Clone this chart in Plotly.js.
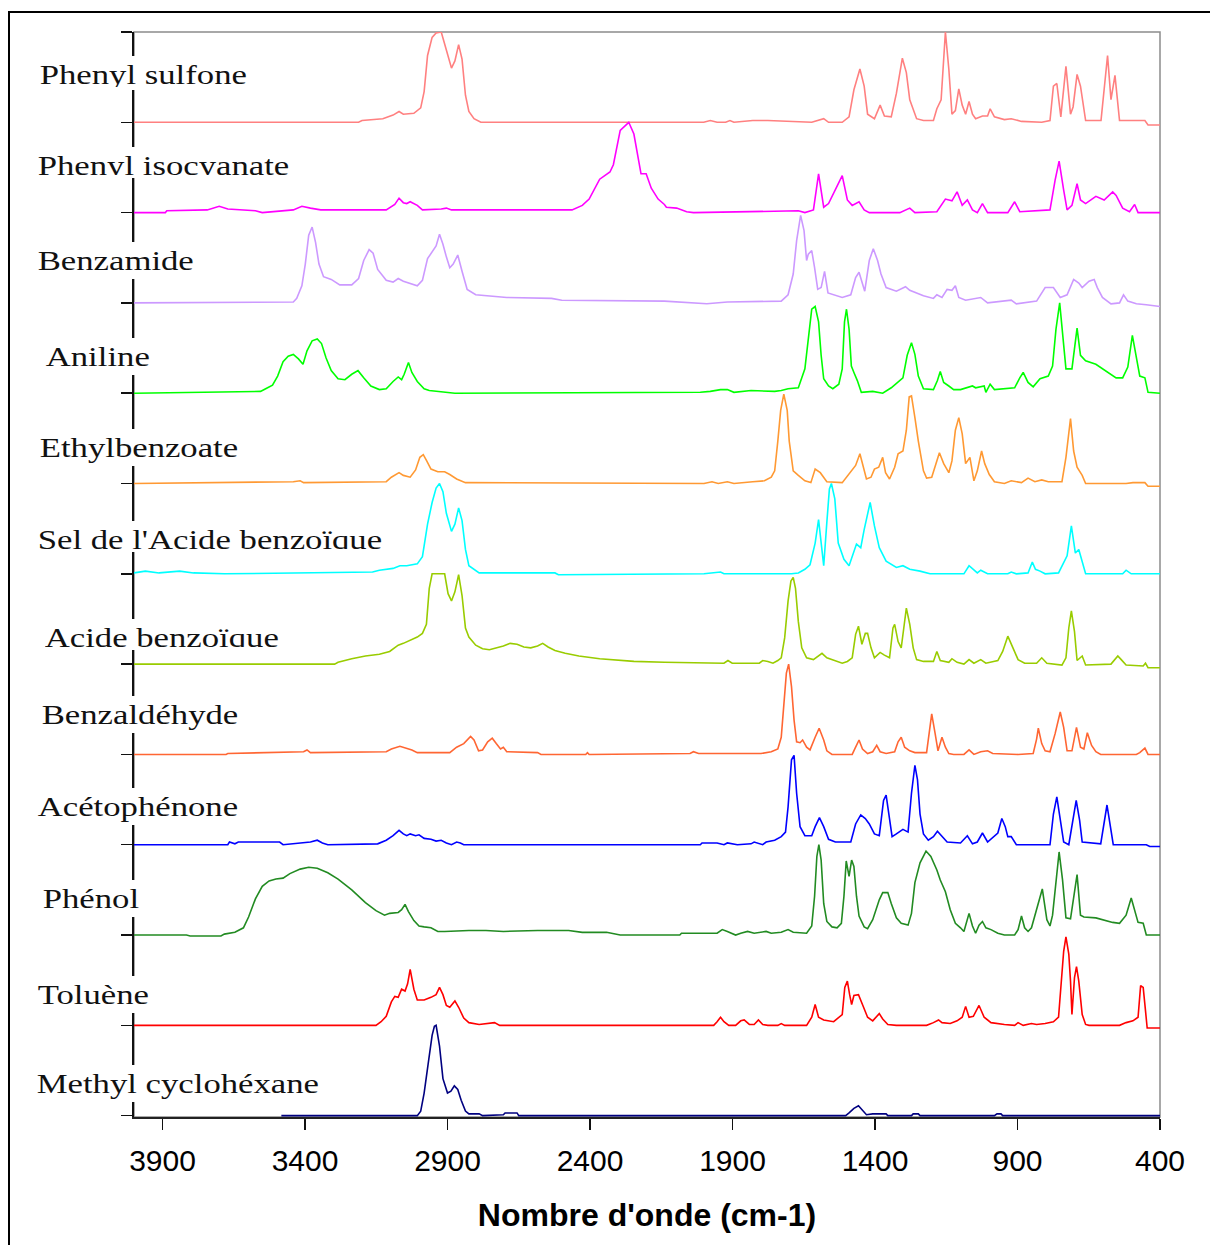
<!DOCTYPE html>
<html>
<head>
<meta charset="utf-8">
<script src="https://cdn.plot.ly/plotly-3.0.1.min.js"></script>
<style>
html,body{margin:0;padding:0;background:#fff;}
#chart{width:1210px;height:1245px;}
</style>
</head>
<body>
<div id="chart"></div>
<script>
// ---------- DATA (wavenumber cm-1, normalised absorbance) ----------
const labelNames = ['Phenyl sulfone','Phenyl isocyanate','Benzamide','Aniline','Ethylbenzoate',
  "Sel de l'Acide benzoïque",'Acide benzoïque','Benzaldéhyde','Acétophénone','Phénol','Toluène','Methyl cyclohéxane'];

const xTickVals = [3900,3400,2900,2400,1900,1400,900,400];
const xTitle = "Nombre d'onde (cm-1)";

const wnPS = [4000,3212,3200,3127,3091,3070,3055,3018,2994,2982,2970,2954,2940,2922,2904,2886,2874,2861,2849,2837,2825,2807,2783,2001,1978,1954,1924,1909,1895,1829,1776,1622,1580,1563,1515,1491,1474,1453,1438,1426,1402,1382,1367,1343,1325,1304,1290,1278,1254,1230,1195,1183,1168,1153,1141,1130,1118,1106,1094,1082,1070,1058,1047,1023,1005,996,981,946,922,886,815,786,774,762,748,730,714,705,691,679,661,607,584,572,558,542,453,442,400];
const absPS = [0,0,0.02,0.04,0.08,0.12,0.09,0.10,0.16,0.34,0.74,0.94,0.99,1.00,0.80,0.60,0.68,0.86,0.70,0.30,0.12,0.04,0,0,0.02,0,0,0.02,0,0.02,0.02,0,0.04,0,0,0.06,0.36,0.59,0.40,0.09,0.04,0.19,0.07,0.06,0.32,0.71,0.55,0.25,0.04,0.02,0.02,0.15,0.25,1.00,0.59,0.09,0.13,0.37,0.19,0.09,0.23,0.09,0.04,0.07,0.07,0.15,0.06,0.03,0.04,0.01,0,0.02,0.40,0.43,0.06,0.62,0.09,0.17,0.53,0.40,0.02,0.02,0.74,0.25,0.52,0.02,0.02,-0.03,-0.03];

const wnPI = [4000,3890,3885,3743,3701,3671,3574,3550,3441,3411,3381,3345,3115,3085,3070,3055,3043,3031,3006,2988,2922,2904,2886,2463,2427,2403,2366,2330,2318,2294,2264,2246,2221,2203,2185,2161,2139,2132,2096,2061,2037,1669,1646,1616,1598,1580,1563,1515,1497,1480,1456,1438,1420,1313,1278,1260,1183,1153,1130,1112,1094,1076,1058,1041,1023,1005,934,910,892,827,786,768,754,738,726,709,691,679,661,625,596,566,554,531,507,489,477,400];
const absPI = [0,0,0.02,0.03,0.07,0.04,0.02,0,0.03,0.07,0.05,0.03,0.03,0.09,0.16,0.11,0.10,0.12,0.08,0.03,0.04,0.05,0.03,0.03,0.08,0.15,0.37,0.45,0.53,0.91,1.00,0.87,0.43,0.43,0.27,0.15,0.09,0.06,0.05,0.01,0,0.02,0,0.03,0.43,0.06,0.10,0.41,0.14,0.08,0.12,0.03,0,0,0.05,0,0.01,0.15,0.13,0.23,0.08,0.14,0.03,0,0.10,0,0,0.12,0.01,0.02,0.03,0.36,0.57,0.25,0.03,0.08,0.32,0.14,0.10,0.18,0.14,0.23,0.19,0.05,0.01,0.09,0,0];

const wnBZ = [4000,3441,3429,3411,3399,3387,3375,3363,3351,3335,3308,3278,3236,3212,3194,3175,3161,3145,3115,3091,3073,3055,3006,2988,2970,2952,2940,2928,2916,2904,2892,2880,2864,2849,2831,2801,2765,2692,2535,2499,2139,2049,1990,1918,1729,1705,1687,1675,1661,1649,1640,1634,1622,1612,1601,1589,1577,1565,1539,1515,1485,1468,1456,1444,1436,1420,1406,1391,1379,1361,1325,1293,1278,1230,1195,1183,1165,1147,1130,1118,1106,1082,1029,1005,922,904,833,803,774,750,726,703,685,673,649,631,620,602,572,542,528,513,483,448,400];
const absBZ = [0,0.01,0.05,0.19,0.43,0.75,0.84,0.67,0.43,0.29,0.26,0.20,0.20,0.27,0.47,0.59,0.55,0.37,0.25,0.23,0.27,0.24,0.19,0.25,0.49,0.57,0.63,0.76,0.65,0.51,0.39,0.43,0.53,0.35,0.15,0.09,0.08,0.06,0.05,0.03,0.02,0,-0.01,0.01,0.02,0.09,0.32,0.69,0.97,0.80,0.47,0.54,0.58,0.39,0.15,0.17,0.35,0.11,0.08,0.06,0.09,0.28,0.34,0.21,0.13,0.47,0.60,0.47,0.32,0.17,0.13,0.18,0.14,0.08,0.05,0.09,0.06,0.15,0.14,0.19,0.06,0.03,0.06,0,0.03,-0.01,0.02,0.17,0.17,0.06,0.09,0.26,0.22,0.17,0.24,0.26,0.17,0.06,-0.01,0,0.09,0.02,-0.01,-0.02,-0.04];

const wnAN = [4000,3556,3538,3514,3496,3477,3459,3441,3423,3407,3393,3375,3357,3342,3326,3308,3284,3260,3236,3214,3194,3169,3139,3115,3091,3073,3061,3052,3037,3025,3006,2982,2964,2874,2013,1978,1942,1918,1895,1835,1752,1729,1705,1669,1646,1634,1622,1610,1598,1589,1580,1563,1548,1527,1515,1507,1500,1491,1483,1474,1462,1448,1408,1373,1343,1302,1287,1272,1260,1248,1230,1195,1181,1171,1159,1141,1124,1100,1058,1047,1017,1011,996,981,910,892,880,863,845,821,792,777,765,752,742,730,709,691,679,661,625,590,554,531,513,497,483,471,453,442,400];
const absAN = [0,0.02,0.05,0.09,0.19,0.35,0.41,0.43,0.38,0.32,0.47,0.58,0.60,0.55,0.39,0.25,0.16,0.15,0.21,0.25,0.17,0.08,0.04,0.05,0.13,0.18,0.15,0.21,0.34,0.23,0.13,0.05,0.03,0,0.01,0.02,0.04,0.04,0.01,0.03,0.02,0.03,0.05,0.06,0.27,0.60,0.93,0.96,0.79,0.42,0.16,0.08,0.05,0.10,0.27,0.79,0.93,0.71,0.30,0.23,0.14,0.01,0.02,0,0.06,0.17,0.42,0.56,0.43,0.19,0.05,0.04,0.14,0.24,0.12,0.08,0.04,0.04,0.08,0.06,0.08,0.01,0.10,0.04,0.06,0.17,0.23,0.12,0.07,0.16,0.19,0.30,0.71,1.00,0.64,0.27,0.27,0.72,0.42,0.36,0.32,0.25,0.17,0.17,0.29,0.64,0.42,0.19,0.17,0.01,0];

const wnEB = [4000,3441,3417,3405,3115,3097,3070,3055,3031,3012,2997,2985,2973,2958,2934,2910,2892,2868,2837,2000,1972,1950,1918,1895,1829,1788,1764,1752,1741,1731,1720,1708,1701,1687,1669,1646,1625,1610,1592,1569,1515,1485,1468,1453,1444,1430,1414,1402,1387,1373,1363,1349,1331,1319,1302,1290,1280,1272,1260,1248,1230,1219,1201,1189,1174,1159,1141,1130,1118,1106,1094,1082,1067,1053,1041,1026,1015,999,981,946,922,886,863,839,815,792,744,730,714,703,691,673,661,519,495,453,442,400];
const absEB = [0,0.02,0.03,0.01,0.02,0.07,0.12,0.09,0.07,0.15,0.29,0.32,0.25,0.16,0.13,0.13,0.10,0.05,0.01,0,0.02,0,0.02,0,0.02,0.03,0.07,0.14,0.47,0.81,0.99,0.81,0.47,0.14,0.09,0.03,0.01,0.16,0.12,0.02,0.01,0.14,0.20,0.33,0.22,0.05,0.07,0.16,0.18,0.29,0.12,0.05,0.18,0.33,0.36,0.59,0.96,0.97,0.73,0.47,0.14,0.06,0.07,0.18,0.34,0.22,0.12,0.25,0.59,0.73,0.55,0.22,0.29,0.03,0.14,0.36,0.22,0.10,0.02,0,0.03,0.01,0.06,0.02,0.04,0.02,0.02,0.29,0.72,0.36,0.18,0.09,0,0,0.01,0.01,-0.03,-0.03];

const wnSEL = [4000,3960,3912,3840,3791,3683,3163,3139,3091,3067,3043,3006,2988,2970,2954,2940,2928,2916,2904,2886,2874,2861,2849,2837,2825,2807,2789,2523,2511,2000,1954,1942,1930,1693,1669,1646,1628,1610,1598,1589,1580,1569,1560,1553,1541,1529,1509,1491,1480,1465,1450,1438,1417,1402,1385,1361,1325,1302,1278,1242,1207,1088,1070,1058,1041,1029,1005,934,922,904,863,848,837,821,803,756,726,711,697,685,673,661,531,519,501,400];
const absSEL = [0.01,0.03,0.01,0.03,0.01,0,0.02,0.04,0.06,0.09,0.09,0.11,0.19,0.55,0.79,0.95,1.00,0.91,0.67,0.47,0.55,0.73,0.59,0.27,0.09,0.05,0.01,0.01,-0.01,0,0.01,0.02,0,0,0.01,0.05,0.10,0.34,0.60,0.34,0.09,0.57,0.94,1.00,0.83,0.34,0.16,0.09,0.20,0.33,0.29,0.49,0.79,0.53,0.29,0.14,0.07,0.09,0.05,0.03,0,0,0.09,0.06,0.01,0.04,0,0,0.02,0,0.01,0.13,0.05,0.03,0,0.01,0.20,0.53,0.23,0.27,0.12,0,0,0.04,0,0];

const wnAB = [4000,3489,3296,3284,3236,3188,3139,3103,3073,3055,3031,3006,2988,2974,2964,2954,2910,2898,2886,2874,2861,2849,2837,2825,2801,2777,2753,2729,2704,2680,2656,2632,2608,2584,2566,2547,2523,2487,2439,2366,2246,2139,2000,1930,1916,1901,1806,1794,1776,1758,1741,1729,1717,1705,1695,1687,1679,1669,1657,1640,1616,1586,1569,1539,1515,1497,1480,1468,1458,1446,1434,1426,1414,1402,1382,1367,1349,1337,1331,1319,1308,1299,1290,1278,1266,1254,1230,1195,1183,1171,1141,1130,1112,1088,1070,1053,1029,1011,969,952,934,916,898,875,833,815,797,744,730,720,711,700,691,673,661,572,548,536,519,459,451,442,400];
const absAB = [0,0,0,0.02,0.06,0.09,0.11,0.14,0.21,0.23,0.26,0.30,0.34,0.44,0.84,1.00,1.00,0.78,0.70,0.80,0.99,0.76,0.40,0.30,0.21,0.17,0.16,0.18,0.20,0.23,0.22,0.19,0.18,0.20,0.23,0.19,0.15,0.12,0.09,0.06,0.03,0.02,0.01,0.01,0.04,0.01,0.01,0.04,0.03,0.01,0.04,0.07,0.29,0.70,0.92,0.96,0.84,0.47,0.18,0.07,0.05,0.12,0.07,0.04,0.01,0.03,0.07,0.33,0.42,0.22,0.34,0.34,0.18,0.07,0.13,0.10,0.07,0.40,0.44,0.25,0.18,0.40,0.62,0.44,0.18,0.05,0.03,0.03,0.14,0.04,0.02,0.06,0.02,0,0.05,0.01,0.05,0.01,0.04,0.14,0.31,0.18,0.05,0.01,0.01,0.07,0.01,-0.01,0.07,0.40,0.59,0.36,0.04,0.09,-0.01,0,0.09,0.05,-0.01,-0.02,0.01,-0.04,-0.04];

const wnBA = [4000,3677,3671,3477,3405,3393,3381,3115,3097,3067,3043,3025,3006,2892,2868,2843,2819,2807,2791,2777,2759,2743,2729,2714,2704,2692,2584,2572,2415,2409,2403,2049,2037,2019,1942,1871,1800,1764,1741,1729,1719,1711,1703,1693,1684,1675,1663,1654,1640,1628,1610,1596,1580,1569,1551,1480,1468,1456,1444,1426,1408,1394,1382,1361,1331,1319,1308,1296,1278,1260,1219,1209,1201,1189,1179,1165,1153,1141,1124,1088,1070,1053,1029,1005,987,898,845,833,827,815,803,786,768,750,738,726,709,693,679,667,655,640,625,608,483,471,453,442,400];
const absBA = [0,0,0.01,0.02,0.03,0.05,0.02,0.03,0.06,0.09,0.07,0.05,0.02,0.02,0.08,0.12,0.20,0.16,0.04,0.05,0.14,0.18,0.12,0.06,0.08,0.03,0.02,0,0,0.02,0,0.01,0.03,0.01,0.01,0.01,0.01,0.03,0.06,0.19,0.56,0.90,1.00,0.75,0.38,0.14,0.13,0.16,0.08,0.05,0.19,0.29,0.16,0.04,0,0,0.08,0.16,0.06,0.01,0.03,0.10,0.03,0.01,0.03,0.14,0.19,0.08,0.04,0.02,0.02,0.30,0.45,0.23,0.04,0.19,0.08,0.01,0,0,0.05,0,0.03,0.04,0.01,0,0.01,0.17,0.29,0.12,0.04,0.03,0.23,0.47,0.30,0.04,0.04,0.30,0.08,0.06,0.24,0.10,0.03,0,0,0.02,0.07,0,0];

const wnAC = [4000,3671,3665,3646,3634,3489,3477,3381,3357,3339,3320,3145,3115,3091,3070,3055,3043,3031,3012,3000,2982,2958,2940,2922,2904,2886,2868,2855,2843,2013,2007,1954,1930,1918,1883,1835,1824,1794,1782,1752,1729,1714,1705,1693,1684,1675,1663,1646,1622,1610,1595,1580,1563,1539,1485,1468,1450,1434,1420,1402,1385,1370,1361,1351,1340,1325,1302,1284,1272,1260,1251,1242,1230,1213,1195,1181,1165,1147,1100,1076,1058,1041,1023,1005,969,955,943,934,922,904,786,774,762,750,738,720,709,694,682,673,608,596,586,574,564,448,436,400];
const absAC = [0,0,0.03,0.01,0.03,0.03,0,0.03,0.05,0.02,0,0.01,0.05,0.10,0.16,0.12,0.10,0.12,0.10,0.11,0.07,0.06,0.04,0.05,0.02,0,0.03,0.02,0,0,0.02,0.02,0,0.02,0,0.01,0.03,0,0.03,0.05,0.09,0.14,0.42,0.94,0.99,0.57,0.20,0.10,0.10,0.20,0.30,0.20,0.06,0.03,0.03,0.23,0.33,0.29,0.23,0.12,0.10,0.49,0.55,0.31,0.09,0.12,0.17,0.14,0.57,0.88,0.72,0.34,0.12,0.05,0.09,0.15,0.09,0.03,0.02,0.10,0.01,0.03,0.13,0.03,0.13,0.29,0.20,0.09,0.09,0,0,0.34,0.53,0.27,0.03,0,0.23,0.49,0.27,0.03,0.01,0.27,0.44,0.20,0,0,-0.02,-0.02];

const wnPH = [4000,3816,3803,3695,3683,3646,3616,3598,3574,3550,3526,3502,3477,3453,3417,3387,3357,3320,3284,3236,3188,3151,3121,3103,3073,3061,3049,3037,3018,3000,2982,2958,2934,2910,2825,2765,2704,2632,2584,2475,2427,2342,2294,2085,2079,1954,1936,1918,1889,1871,1847,1824,1782,1764,1729,1705,1687,1640,1622,1612,1604,1597,1589,1580,1569,1551,1533,1518,1509,1501,1491,1482,1474,1465,1456,1438,1426,1408,1385,1373,1355,1343,1325,1308,1284,1272,1260,1242,1221,1204,1183,1171,1153,1136,1118,1100,1088,1070,1058,1047,1035,1023,1011,993,969,946,910,898,886,875,863,851,833,813,797,786,777,765,754,742,730,714,703,691,679,667,625,590,566,542,519,501,489,477,459,448,400];
const absPH = [0,0,-0.01,-0.01,0.01,0.03,0.08,0.20,0.40,0.54,0.60,0.62,0.63,0.68,0.73,0.75,0.74,0.69,0.62,0.50,0.36,0.27,0.22,0.24,0.25,0.28,0.34,0.26,0.16,0.10,0.09,0.08,0.04,0.04,0.05,0.05,0.04,0.05,0.05,0.05,0.03,0.03,0,0,0.02,0.02,0.06,0.04,0,0.02,0.04,0.02,0.04,0.02,0.03,0.06,0.03,0.02,0.10,0.43,0.87,1.00,0.83,0.35,0.15,0.09,0.08,0.13,0.43,0.82,0.65,0.83,0.76,0.43,0.21,0.09,0.07,0.17,0.39,0.47,0.47,0.35,0.19,0.13,0.11,0.24,0.58,0.80,0.93,0.87,0.72,0.61,0.48,0.28,0.13,0.08,0.04,0.24,0.10,0.02,0.11,0.15,0.08,0.06,0.02,0,0,0.06,0.21,0.08,0.04,0.08,0.28,0.51,0.17,0.10,0.22,0.61,0.92,0.61,0.19,0.18,0.43,0.67,0.22,0.20,0.19,0.16,0.14,0.13,0.22,0.41,0.28,0.14,0.13,0,0];

const wnTO = [4000,3151,3133,3115,3097,3085,3073,3061,3049,3040,3031,3018,3006,2982,2958,2940,2928,2916,2904,2892,2874,2861,2843,2825,2789,2753,2735,2717,1966,1954,1942,1930,1913,1889,1871,1859,1841,1824,1809,1794,1776,1741,1729,1717,1640,1622,1610,1598,1580,1545,1527,1515,1506,1497,1489,1482,1474,1458,1444,1426,1408,1397,1385,1373,1355,1325,1219,1195,1177,1165,1136,1112,1094,1082,1070,1055,1035,1017,993,946,910,898,880,851,833,803,774,756,747,738,730,720,714,709,700,693,685,673,661,649,542,519,495,477,468,459,453,445,400];
const absTO = [0,0,0.04,0.10,0.26,0.32,0.31,0.40,0.38,0.46,0.62,0.40,0.28,0.28,0.31,0.34,0.42,0.34,0.22,0.20,0.27,0.20,0.08,0.03,0.01,0.02,0.03,0,0,0.04,0.09,0.04,0,0,0.05,0.06,0.01,0.01,0.06,0.01,0,0,0.02,0,0,0.09,0.23,0.09,0.06,0.04,0.09,0.12,0.42,0.49,0.34,0.23,0.33,0.34,0.23,0.09,0.05,0.09,0.13,0.07,0.01,0,0,0.03,0.06,0.03,0.02,0.05,0.09,0.21,0.09,0.10,0.22,0.09,0.03,0.01,0,0.03,0,0.02,0.01,0.02,0.04,0.09,0.42,0.82,0.98,0.79,0.49,0.12,0.53,0.65,0.49,0.12,0.01,0,0,0.03,0.05,0.09,0.44,0.42,0.23,-0.03,-0.03];

const wnMC = [3483,3006,2994,2982,2968,2954,2946,2940,2928,2916,2900,2888,2876,2864,2852,2837,2825,2789,2777,2704,2698,2656,2650,1503,1491,1474,1458,1444,1430,1408,1361,1355,1272,1266,1248,1242,981,972,958,952,400];
const absMC = [0,0,0.05,0.25,0.57,0.89,0.99,1.00,0.77,0.41,0.25,0.27,0.33,0.29,0.17,0.05,0.02,0.02,0,0.01,0.03,0.03,0,0,0.03,0.08,0.11,0.06,0.01,0.02,0.02,0,0,0.02,0.02,0,0,0.02,0.02,0,0];

// ---------- STYLE / LAYOUT ----------
const seriesWn  = [wnPS, wnPI, wnBZ, wnAN, wnEB, wnSEL, wnAB, wnBA, wnAC, wnPH, wnTO, wnMC];
const seriesAbs = [absPS, absPI, absBZ, absAN, absEB, absSEL, absAB, absBA, absAC, absPH, absTO, absMC];
const colors = ['#FF8080','#FF00FF','#CC99FF','#00FF00','#FF9933','#00FFFF','#99CC00','#FF6633','#0000FF','#228B22','#FF0000','#000080'];

// label placement (pixels in the 1210x1245 page): text left, text baseline, clip line (or null)
const labelLeftPx = [40,38,38,46,40,38,45,42,38,43,38,37];
const labelBasePx = [84,175,270,366,457,549,647,724,816,908,1004,1093];
const labelClipPx = [87,175,null,null,null,549,647,null,null,null,null,null];

const W = 1210, H = 1245;
const mL = 134, mR = 50, mT = 32, mB = 128;
const plotW = W - mL - mR, plotH = H - mT - mB;
const yMin = -0.015, yMax = 12;
const FONT_SIZE = 28, ASCENT = Math.round(FONT_SIZE*0.891), PAD = 3, STRETCH = 1.24;

function pxToY(py){ return yMax - (py - mT) * (yMax - yMin) / plotH; }
function pxToPaperX(px){ return (px - mL) / plotW; }

const n = labelNames.length;
const traces = labelNames.map((name, i) => {
  const offset = n - 1 - i;
  return {
    type: 'scatter', mode: 'lines', name: name,
    x: seriesWn[i], y: seriesAbs[i].map(v => v + offset),
    line: {color: colors[i], width: 1.6},
    hoverinfo: 'skip', showlegend: false
  };
});

const annotations = labelNames.map((name, i) => {
  const top = labelBasePx[i] - ASCENT - PAD;
  const a = {
    text: name, showarrow: false,
    xref: 'paper', yref: 'y',
    x: pxToPaperX(labelLeftPx[i] - PAD*STRETCH), xanchor: 'left',
    y: pxToY(top), yanchor: 'top',
    font: {family: 'Liberation Serif, Times New Roman, serif', size: FONT_SIZE, color: '#111'},
    bgcolor: '#ffffff', borderpad: PAD, borderwidth: 0, align: 'left'
  };
  if (labelClipPx[i] !== null) {
    a.height = labelClipPx[i] - labelBasePx[i] + ASCENT;
    a.valign = 'top';
  }
  return a;
});

const ticks = [];
for (let k = 0; k <= 12; k++) ticks.push(k);

const layout = {
  width: W, height: H,
  margin: {l: mL, r: mR, t: mT, b: mB, pad: 0},
  paper_bgcolor: '#ffffff', plot_bgcolor: '#ffffff',
  showlegend: false,
  font: {family: 'Liberation Sans, Arial, sans-serif', color: '#000'},
  xaxis: {
    range: [4000, 400], tickmode: 'array', tickvals: xTickVals, ticktext: xTickVals.map(String),
    ticks: 'outside', ticklen: 11, tickwidth: 1.5, tickcolor: '#111',
    ticklabelstandoff: 5,
    showline: true, linecolor: '#222', linewidth: 2, showgrid: false, zeroline: false,
    tickfont: {family: 'Liberation Sans, Arial, sans-serif', size: 30, color: '#000'},
    title: {text: xTitle, standoff: 28,
            font: {family: 'Liberation Sans, Arial, sans-serif', size: 32, color: '#000', weight: 'bold'}},
    layer: 'below traces', automargin: false
  },
  yaxis: {
    range: [yMin, yMax], tickmode: 'array', tickvals: ticks, showticklabels: false,
    ticks: 'outside', ticklen: 11, tickwidth: 1.5, tickcolor: '#111',
    showline: true, linecolor: '#111', linewidth: 2, showgrid: false, zeroline: false,
    layer: 'below traces', automargin: false
  },
  shapes: [
    {type: 'rect', xref: 'paper', yref: 'paper', x0: 0, x1: 1, y0: 0, y1: 1,
     line: {color: '#8c8c8c', width: 1.5}, layer: 'below'},
    {type: 'rect', xref: 'paper', yref: 'paper',
     x0: (9 - mL)/plotW, x1: (1230 - mL)/plotW,
     y0: ((mT + plotH) - 1265)/plotH, y1: ((mT + plotH) - 12)/plotH,
     line: {color: '#000', width: 2}, layer: 'below'}
  ],
  annotations: annotations
};

Plotly.newPlot('chart', traces, layout, {staticPlot: true, responsive: false}).then(() => {
  // horizontally widen the serif labels like the original drawing
  document.querySelectorAll('#chart .annotation .annotation-text-g > g').forEach(g => {
    const t = g.getAttribute('transform') || '';
    g.setAttribute('transform', t + ' scale(' + STRETCH + ',1)');
  });
});
</script>
</body>
</html>
